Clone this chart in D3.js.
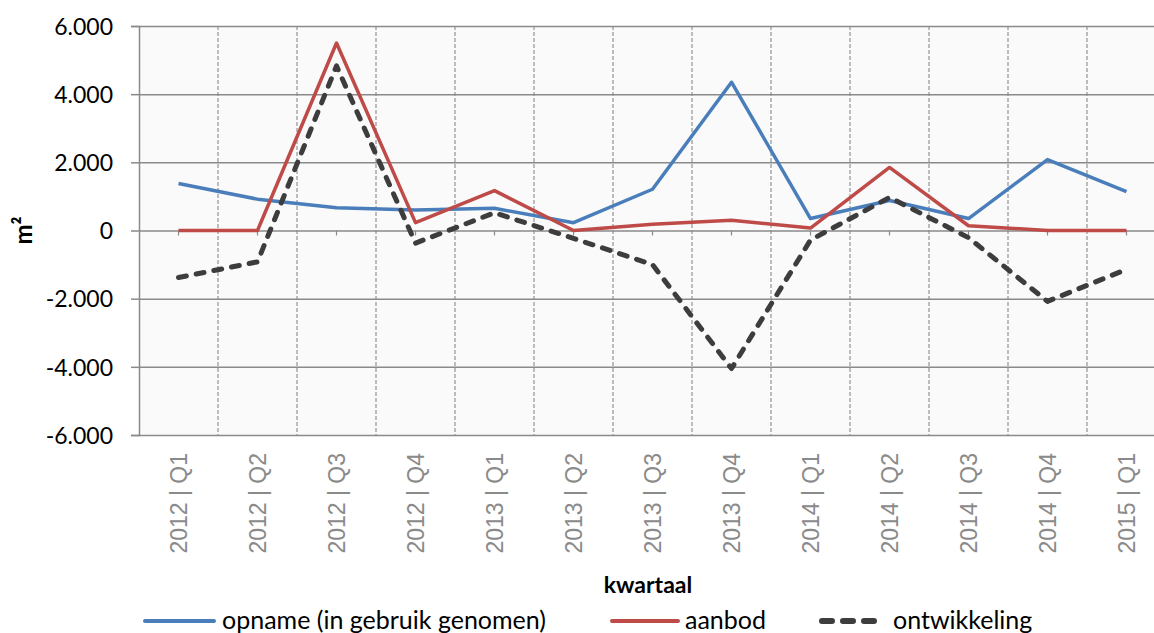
<!DOCTYPE html>
<html>
<head>
<meta charset="utf-8">
<script src="https://cdn.jsdelivr.net/npm/d3@7"></script>
<style>
  body { margin: 0; background: #fff; overflow: hidden; }
  svg { display: block; }
</style>
</head>
<body>
<div id="chart"></div>
<script>
// Quarters on the x axis
const quarters = ["2012 | Q1", "2012 | Q2", "2012 | Q3", "2012 | Q4",
                  "2013 | Q1", "2013 | Q2", "2013 | Q3", "2013 | Q4",
                  "2014 | Q1", "2014 | Q2", "2014 | Q3", "2014 | Q4",
                  "2015 | Q1"];

// Series values (m²)
const opname = [1380, 920, 670, 600, 650, 230, 1210, 4350, 350, 880, 350, 2080, 1140];
const aanbod = [0, 0, 5500, 230, 1170, 0, 180, 300, 70, 1850, 140, 0, 0];
const ontwikkeling = [-1380, -920, 4830, -370, 520, -230, -1000, -4050, -280, 970, -210, -2080, -1140];

const yTicks = [-6000, -4000, -2000, 0, 2000, 4000, 6000];

const seriesNames = ["opname (in gebruik genomen)", "aanbod", "ontwikkeling"];

// Size of the page
const svgWidth = 1154;
const svgHeight = 633;

// Plot area (right side runs past the window edge, like the original)
const margin = { top: 26, left: 139 };
const width = 1027;
const height = 409;

const svg = d3.select("#chart")
              .append("svg")
              .attr("width", svgWidth)
              .attr("height", svgHeight);

const chartGroup = svg.append("g")
                      .attr("transform", `translate(${margin.left}, ${margin.top})`);

const xScale = d3.scaleBand()
                 .domain(quarters)
                 .range([0, width]);

const yScale = d3.scaleLinear()
                 .domain([-6000, 6000])
                 .range([height, 0]);

// Dutch style: dot as thousands separator, plain hyphen for minus
const fmt = v => (v < 0 ? "-" : "") + d3.format(",")(Math.abs(v)).replace(/,/g, ".");

// Plot background
chartGroup.append("rect")
          .attr("width", width)
          .attr("height", height)
          .attr("fill", "#fafafa");

// Vertical dashed grid lines between quarters
chartGroup.append("g")
          .selectAll("line")
          .data(quarters.slice(1))
          .enter()
          .append("line")
          .attr("x1", d => xScale(d))
          .attr("x2", d => xScale(d))
          .attr("y1", 0)
          .attr("y2", height)
          .attr("stroke", "#939393")
          .attr("stroke-width", 1.2)
          .attr("stroke-dasharray", "4,2");

// Horizontal grid lines + y axis
const yAxis = chartGroup.append("g")
                        .call(d3.axisLeft(yScale)
                                .tickValues(yTicks)
                                .tickFormat(fmt)
                                .tickSize(8)
                                .tickPadding(18));
yAxis.select(".domain").attr("stroke", "#8a8a8a").attr("stroke-width", 1.5);
yAxis.selectAll(".tick line").attr("stroke", "#8a8a8a").attr("stroke-width", 1.5);
yAxis.selectAll(".tick")
     .append("line")
     .attr("x1", 0)
     .attr("x2", width)
     .attr("stroke", "#8a8a8a")
     .attr("stroke-width", 1.5);
yAxis.selectAll("text")
     .attr("font-family", "Lato, 'Open Sans', sans-serif")
     .attr("font-size", "23px")
     .attr("fill", "#000")
     .attr("dy", "0.36em");

// Category tick marks on the zero line
chartGroup.append("g")
          .selectAll("line")
          .data(quarters)
          .enter()
          .append("line")
          .attr("x1", d => xScale(d) + xScale.bandwidth() / 2)
          .attr("x2", d => xScale(d) + xScale.bandwidth() / 2)
          .attr("y1", yScale(0))
          .attr("y2", yScale(0) + 5)
          .attr("stroke", "#8a8a8a")
          .attr("stroke-width", 1.2);

// Rotated quarter labels under the plot
chartGroup.append("g")
          .selectAll("text")
          .data(quarters)
          .enter()
          .append("text")
          .text(d => d)
          .attr("transform", d => `translate(${xScale(d) + xScale.bandwidth() / 2 + 8}, ${height + 18}) rotate(-90)`)
          .attr("text-anchor", "end")
          .attr("font-family", "'Liberation Sans', Arial, sans-serif")
          .attr("font-size", "23px")
          .attr("fill", "#8a8a8a");

// Lines
const xPos = (d, i) => xScale(quarters[i]) + xScale.bandwidth() / 2;
const line = d3.line().x(xPos).y(d => yScale(d));

const styles = [
    { data: opname, color: "#4a7ebb", width: 3.5, dash: null },
    { data: aanbod, color: "#be4b48", width: 3.5, dash: null },
    { data: ontwikkeling, color: "#3d3d3d", width: 5, dash: "8,10" }
];

chartGroup.append("g")
          .selectAll("path")
          .data(styles)
          .enter()
          .append("path")
          .attr("d", d => line(d.data))
          .attr("fill", "none")
          .attr("stroke", d => d.color)
          .attr("stroke-width", d => d.width)
          .attr("stroke-dasharray", d => d.dash)
          .attr("stroke-linecap", d => d.dash ? "round" : "butt")
          .attr("stroke-linejoin", "round");

// Axis titles
svg.append("text")
   .text("m²")
   .attr("transform", `translate(32, ${margin.top + yScale(0)}) rotate(-90)`)
   .attr("text-anchor", "middle")
   .attr("font-family", "Lato, 'Open Sans', sans-serif")
   .attr("font-weight", "bold")
   .attr("font-size", "24px");

svg.append("text")
   .text("kwartaal")
   .attr("x", 648)
   .attr("y", 593)
   .attr("text-anchor", "middle")
   .attr("font-family", "Lato, 'Open Sans', sans-serif")
   .attr("font-weight", "bold")
   .attr("font-size", "23px");

// Legend
const legendPos = [
    { x1: 145, x2: 214, tx: 222 },
    { x1: 612, x2: 678, tx: 685 },
    { x1: 822, x2: 880, tx: 893 }
];
const legend = svg.append("g")
                  .selectAll("g")
                  .data(seriesNames)
                  .enter()
                  .append("g");
legend.append("line")
      .attr("x1", (d, i) => legendPos[i].x1)
      .attr("x2", (d, i) => legendPos[i].x2)
      .attr("y1", 621)
      .attr("y2", 621)
      .attr("stroke", (d, i) => styles[i].color)
      .attr("stroke-width", (d, i) => styles[i].dash ? 6 : 4)
      .attr("stroke-dasharray", (d, i) => styles[i].dash ? "10,11" : null)
      .attr("stroke-linecap", "round");
legend.append("text")
      .text(d => d)
      .attr("x", (d, i) => legendPos[i].tx)
      .attr("y", 629)
      .attr("font-family", "Lato, 'Open Sans', sans-serif")
      .attr("font-size", "25px")
      .attr("fill", "#000");
</script>
</body>
</html>
